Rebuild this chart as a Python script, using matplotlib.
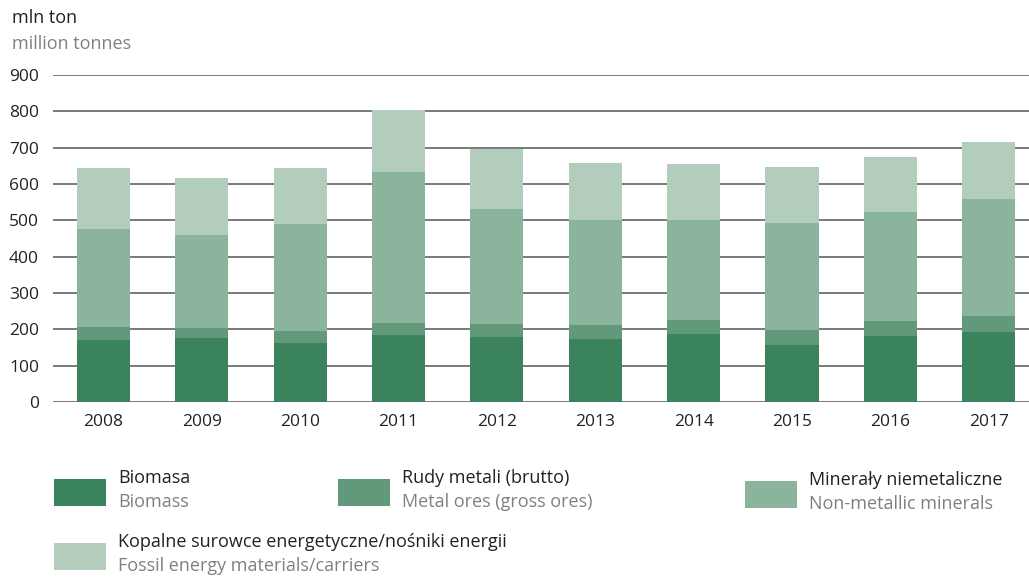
import matplotlib
matplotlib.use("Agg")
import matplotlib.pyplot as plt
from matplotlib.patches import Rectangle
import numpy as np

plt.rcParams['font.family'] = ['Open Sans', 'DejaVu Sans']

years = ['2008', '2009', '2010', '2011', '2012', '2013', '2014', '2015', '2016', '2017']
biomass = [170, 175, 162, 184, 178, 173, 186, 156, 181, 192]
metal_ores = [36, 28, 33, 33, 36, 38, 39, 41, 41, 44]
non_metallic = [270, 256, 295, 416, 317, 289, 276, 295, 300, 322]
fossil = [168, 157, 155, 171, 165, 157, 154, 154, 152, 157]

series = [biomass, metal_ores, non_metallic, fossil]
colors = ['#3a835d', '#62997a', '#8ab49c', '#b2cdbb']
labels_pl = ['Biomasa', 'Rudy metali (brutto)', 'Minerały niemetaliczne',
             'Kopalne surowce energetyczne/nośniki energii']
labels_en = ['Biomass', 'Metal ores (gross ores)', 'Non-metallic minerals',
             'Fossil energy materials/carriers']

W, H = 1029, 577
fig = plt.figure(figsize=(W / 100, H / 100), dpi=100)
ax = fig.add_axes([53 / W, 1 - 402 / H, (W - 53) / W, (402 - 75) / H])

x = np.arange(len(years))
bottom = np.zeros(len(years))
for vals, c in zip(series, colors):
    ax.bar(x, vals, width=0.54, bottom=bottom, color=c, zorder=3, linewidth=0)
    bottom += np.array(vals)

ax.set_ylim(0, 900)
ax.set_xlim(-0.514, 9.41)
ax.set_yticks(range(0, 901, 100))
ax.set_xticks(x)
ax.set_xticklabels(years)
ax.yaxis.grid(True, color='#7a7a7a', linewidth=1.4, zorder=0)
ax.set_axisbelow(True)
for s in ax.spines.values():
    s.set_visible(False)
ax.tick_params(axis='both', length=0, labelsize=12.5, colors='#222222')
ax.tick_params(axis='y', pad=10)
ax.tick_params(axis='x', pad=9)

fig.text(12 / W, 1 - 18 / H, 'mln ton', fontsize=13, color='#222222', va='center')
fig.text(12 / W, 1 - 44 / H, 'million tonnes', fontsize=13, color='#808080', va='center')

# legend built by hand: swatch + Polish label + English label
legend_pos = [(54, 479), (338, 479), (745, 481), (54, 543)]
for (lx, ly), c, pl, en in zip(legend_pos, colors, labels_pl, labels_en):
    fig.patches.append(Rectangle((lx / W, 1 - (ly + 27) / H), 52 / W, 27 / H,
                                 transform=fig.transFigure, color=c, linewidth=0))
    fig.text((lx + 64) / W, 1 - (ly - 1) / H, pl, fontsize=13, color='#222222', va='center')
    fig.text((lx + 64) / W, 1 - (ly + 23) / H, en, fontsize=13, color='#808080', va='center')

fig.savefig('out.png', dpi=100)
